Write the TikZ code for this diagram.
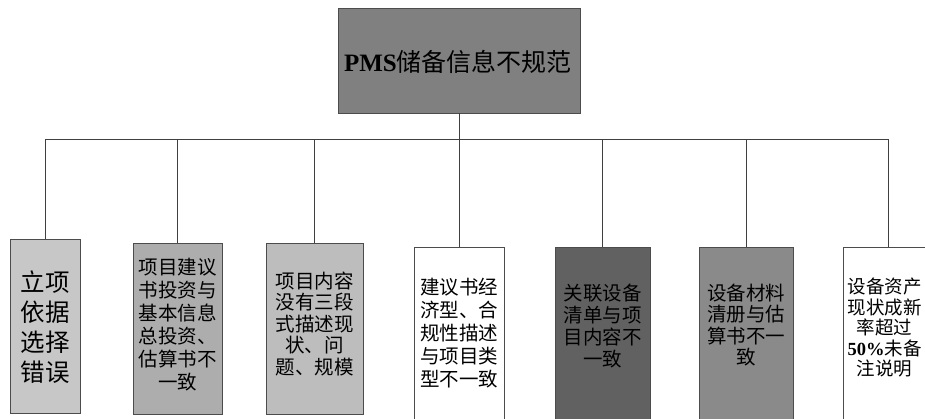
\documentclass[tikz,border=0pt]{standalone}
\usepackage{fontspec}
\setmainfont{Liberation Serif}
\newfontfamily\cjk{Noto Sans CJK SC}
\newcommand\latb[1]{{\rmfamily\bfseries #1}}
\begin{document}
\begin{tikzpicture}[x=1pt,y=-1pt,
  box/.style={draw=black!70, line width=0.8pt, rectangle, inner sep=0pt},
  txt/.style={align=center, inner sep=0pt, text=black, font=\cjk\fontsize{19.5}{22}\selectfont},
  conn/.style={draw=black!75, line width=0.7pt}]
\useasboundingbox[fill=white] (0,0) rectangle (925,419);
% top
\node[box, fill=black!50, minimum width=242pt, minimum height=105pt] (top) at (459,60.5) {};
\node[txt, font=\cjk\fontsize{25}{30}\selectfont] (toptxt) at (458,62) {\latb{PMS}储备信息不规范};
% boxes
\node[box, fill=black!22, minimum width=70pt, minimum height=174pt] (b1) at (45,326) {};
\node[txt, font=\cjk\fontsize{24.5}{30}\selectfont] (t1) at (45,327) {立项\\依据\\选择\\错误};
\node[box, fill=black!32, minimum width=89pt, minimum height=171pt] (b2) at (177.5,328.5) {};
\node[txt, font=\cjk\fontsize{19.5}{23}\selectfont] (t2) at (177.5,325) {项目建议\\书投资与\\基本信息\\总投资、\\估算书不\\一致};
\node[box, fill=black!26, minimum width=97pt, minimum height=171pt] (b3) at (314.5,328.5) {};
\node[txt, font=\cjk\fontsize{19.5}{21.5}\selectfont] (t3) at (314.5,324) {项目内容\\没有三段\\式描述现\\状、问\\题、规模};
\node[box, fill=white, minimum width=90pt, minimum height=180pt] (b4) at (459,337) {};
\node[txt, font=\cjk\fontsize{19.5}{23}\selectfont] (t4) at (459,333) {建议书经\\济型、合\\规性描述\\与项目类\\型不一致};
\node[box, fill=black!62, minimum width=95pt, minimum height=180pt] (b5) at (602.5,337) {};
\node[txt] (t5) at (602.5,326) {关联设备\\清单与项\\目内容不\\一致};
\node[box, fill=black!46, minimum width=94pt, minimum height=180pt] (b6) at (746,337) {};
\node[txt, font=\cjk\fontsize{19.5}{21.5}\selectfont] (t6) at (746,325) {设备材料\\清册与估\\算书不一\\致};
\node[box, fill=white, minimum width=90pt, minimum height=180pt] (b7) at (888,337) {};
\node[txt, font=\cjk\fontsize{18.5}{20.5}\selectfont] (t7) at (884.5,328) {设备资产\\现状成新\\率超过\\\latb{50\%}未备\\注说明};
% connectors
\coordinate (bus) at (0,139);
\draw[conn] (top.south) -- (top.south |- bus);
\draw[conn] (b1.north |- bus) -- (b7.north |- bus);
\foreach \b in {b1,b2,b3,b4,b5,b6,b7}{
  \draw[conn] (\b.north) -- (\b.north |- bus);
}
\end{tikzpicture}
\end{document}
